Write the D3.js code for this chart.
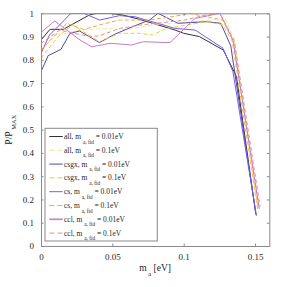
<!DOCTYPE html>
<html>
<head>
<meta charset="utf-8">
<script src="https://cdn.jsdelivr.net/npm/d3@7"></script>
<style>
  html, body { margin: 0; padding: 0; background: #fff; }
  svg text { font-family: "Liberation Serif", "DejaVu Serif", serif; fill: #262626; }
</style>
</head>
<body>
<div id="chart"></div>
<script>
// tick values
const xTicks = [0, 0.05, 0.1, 0.15]
const yTicks = [0, 0.1, 0.2, 0.3, 0.4, 0.5, 0.6, 0.7, 0.8, 0.9, 1]

// series: [m_a, P/P_MAX]
const all001 = [[0, 0.885], [0.0063, 0.931], [0.0156, 0.931], [0.034, 0.993], [0.039, 1.0], [0.048, 1.0], [0.057, 0.993], [0.069, 0.974], [0.094, 0.928], [0.1, 0.914], [0.111, 0.9], [0.1278, 0.842], [0.137, 0.728], [0.1505, 0.14]]
const all01 = [[0, 0.828], [0.008, 0.9], [0.027, 0.928], [0.045, 0.935], [0.06, 0.93], [0.08, 0.95], [0.1, 0.96], [0.118, 0.97], [0.129, 0.978], [0.1355, 0.89], [0.1525, 0.15]]
const csgx001 = [[0, 0.749], [0.005, 0.818], [0.014, 0.845], [0.0203, 0.914], [0.027, 0.924], [0.041, 0.874], [0.052, 0.911], [0.064, 0.942], [0.076, 0.971], [0.082, 1.0], [0.096, 0.957], [0.116, 0.964], [0.126, 0.957], [0.133, 0.86], [0.1507, 0.133]]
const csgx01 = [[0, 0.807], [0.012, 0.9], [0.022, 0.95], [0.041, 0.878], [0.055, 0.914], [0.069, 0.914], [0.078, 0.907], [0.088, 0.935], [0.116, 0.964], [0.1275, 0.95], [0.134, 0.88], [0.152, 0.15]]
const cs001 = [[0, 0.828], [0.006, 0.907], [0.013, 0.95], [0.021, 1.0], [0.03, 1.0], [0.041, 0.971], [0.055, 0.99], [0.066, 0.985], [0.094, 0.935], [0.108, 0.928], [0.1275, 0.85], [0.1345, 0.75], [0.151, 0.13]]
const cs01 = [[0, 0.842], [0.018, 0.957], [0.03, 0.93], [0.041, 0.95], [0.055, 0.971], [0.076, 0.971], [0.0995, 0.993], [0.104, 1.0], [0.1275, 0.971], [0.135, 0.88], [0.1525, 0.16]]
const ccl001 = [[0, 0.918], [0.0096, 0.967], [0.0274, 0.885], [0.0355, 0.856], [0.0484, 0.871], [0.0636, 0.864], [0.0717, 0.878], [0.0904, 0.874], [0.108, 0.978], [0.1254, 1.0], [0.1345, 0.885], [0.153, 0.16]]
const ccl01 = [[0, 0.87], [0.013, 0.928], [0.034, 0.9], [0.041, 0.903], [0.055, 0.935], [0.07, 0.95], [0.1, 0.97], [0.116, 0.993], [0.1254, 1.0], [0.1355, 0.88], [0.1535, 0.17]]

const labels = ['all', 'all', 'csgx', 'csgx', 'cs', 'cs', 'ccl', 'ccl']
const fidValues = ['0.01eV', '0.1eV', '0.01eV', '0.1eV', '0.01eV', '0.1eV', '0.01eV', '0.1eV']
const colors = ['#333333', '#f2ea9a', '#4e4ca8', '#f0c842', '#7a5ce6', '#f6a446', '#c47cc8', '#f78a84']
const dashed = [false, true, false, true, false, true, false, true]
const seriesData = [all001, all01, csgx001, csgx01, cs001, cs01, ccl001, ccl01]

const width = 294, height = 287
const margin = { top: 13.3, left: 41, right: 24.7, bottom: 41 }
const w = width - margin.left - margin.right
const h = height - margin.top - margin.bottom
const serif = '"Liberation Serif", "DejaVu Serif", serif'

const svg = d3.select('#chart').append('svg')
  .attr('width', width)
  .attr('height', height)
  .attr('font-family', serif)

const g = svg.append('g')
  .attr('transform', 'translate(' + margin.left + ',' + margin.top + ')')

const x = d3.scaleLinear().domain([0, 0.16]).range([0, w])
const y = d3.scaleLinear().domain([0, 1]).range([h, 0])

// curves
const line = d3.line().x(d => x(d[0])).y(d => y(d[1]))
g.append('defs').append('clipPath').attr('id', 'clip')
  .append('rect').attr('width', w).attr('height', h)
g.append('g').attr('clip-path', 'url(#clip)')
  .selectAll('path')
  .data(seriesData)
  .enter()
  .append('path')
  .attr('d', d => line(d))
  .attr('fill', 'none')
  .attr('stroke', (d, i) => colors[i])
  .attr('stroke-width', 1)
  .attr('stroke-dasharray', (d, i) => dashed[i] ? '4,2.5' : null)

// frame + ticks (matlab box style)
const frameColor = '#8a8a8a'
function styleAxis(sel) {
  sel.attr('font-family', serif)
  sel.select('.domain').attr('stroke', frameColor)
  sel.selectAll('.tick line').attr('stroke', frameColor)
  sel.selectAll('.tick text').attr('font-size', '9px').attr('fill', '#262626')
}
g.append('g')
  .attr('transform', 'translate(0,' + h + ')')
  .call(d3.axisBottom(x).tickValues(xTicks).tickFormat(d3.format('')).tickSizeInner(-2.5).tickSizeOuter(0).tickPadding(8))
  .call(styleAxis)
g.append('g')
  .call(d3.axisTop(x).tickValues(xTicks).tickFormat('').tickSizeInner(-2.5).tickSizeOuter(0))
  .call(styleAxis)
g.append('g')
  .call(d3.axisLeft(y).tickValues(yTicks).tickFormat(d3.format('')).tickSizeInner(-2.5).tickSizeOuter(0).tickPadding(7))
  .call(styleAxis)
g.append('g')
  .attr('transform', 'translate(' + w + ',0)')
  .call(d3.axisRight(y).tickValues(yTicks).tickFormat('').tickSizeInner(-2.5).tickSizeOuter(0))
  .call(styleAxis)
g.selectAll('.domain').attr('stroke-width', 1)

// axis titles
const xt = svg.append('text')
  .attr('x', margin.left + w / 2)
  .attr('y', 271)
  .attr('text-anchor', 'middle')
  .attr('font-size', '9.5px')
xt.append('tspan').text('m')
xt.append('tspan').attr('dy', 5).attr('font-size', '6.5px').text(' a')
xt.append('tspan').attr('dy', -5).text(' [eV]')

const yt = svg.append('text')
  .attr('transform', 'translate(12,' + (margin.top + h / 2) + ') rotate(-90)')
  .attr('text-anchor', 'middle')
  .attr('font-size', '9.5px')
yt.append('tspan').text('P/P')
yt.append('tspan').attr('dy', 4).attr('font-size', '6.5px').text(' MAX')

// legend
const legX = 45, legY = 128.3, legW = 112.3, legH = 112.7, rowH = 13.8
const leg = svg.append('g').attr('transform', 'translate(' + legX + ',' + legY + ')')
leg.append('rect')
  .attr('width', legW).attr('height', legH)
  .attr('fill', '#fff').attr('stroke', frameColor).attr('stroke-width', 1)
const rows = leg.selectAll('.row')
  .data(labels)
  .enter()
  .append('g')
  .attr('transform', (d, i) => 'translate(0,' + (8.2 + i * rowH) + ')')
rows.append('line')
  .attr('x1', 4.3).attr('x2', 17.7)
  .attr('stroke', (d, i) => colors[i])
  .attr('stroke-width', (d, i) => i === 6 ? 1.6 : 1)
  .attr('stroke-dasharray', (d, i) => dashed[i] ? '5,3' : null)
const lt = rows.append('text')
  .attr('x', 19)
  .attr('y', 2.5)
  .attr('font-size', '7.5px')
lt.append('tspan').text(d => d + ', m ')
lt.append('tspan').attr('dy', 4.5).attr('font-size', '5.3px').text(' a, fid')
lt.append('tspan').attr('dy', -4.5).text((d, i) => ' = ' + fidValues[i])
</script>
</body>
</html>
